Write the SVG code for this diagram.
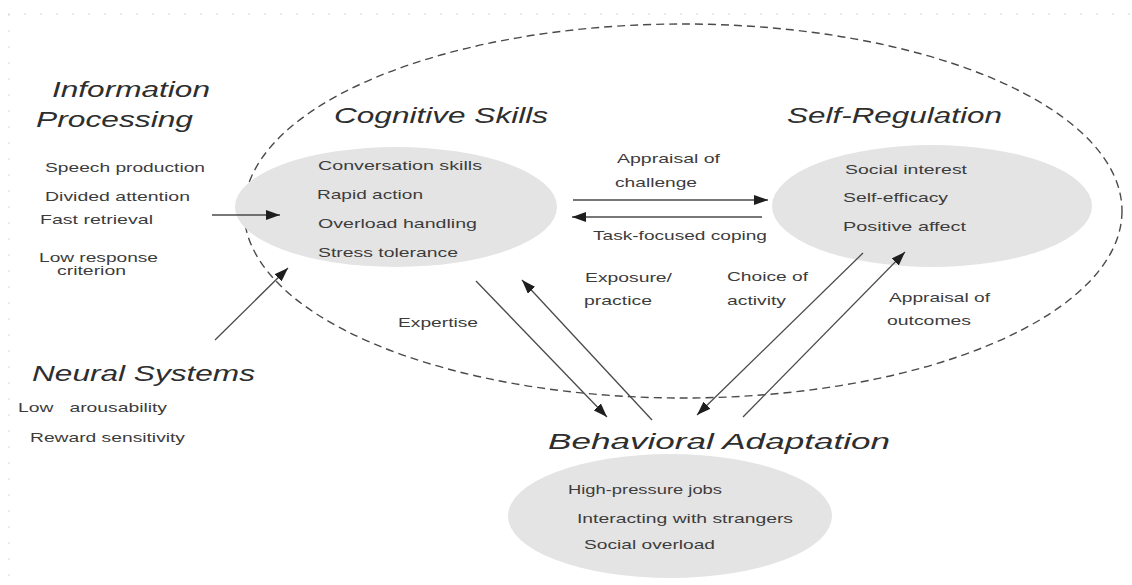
<svg xmlns="http://www.w3.org/2000/svg" width="1132" height="585" viewBox="0 0 1132 585">
<style>
.h{font-family:"Liberation Sans",Arial,sans-serif;font-style:italic;font-size:22px;fill:#2e2e2e}
.t{font-family:"Liberation Sans",Arial,sans-serif;font-size:13.5px;fill:#3c3c3c}
.blob{fill:#e4e4e4}
.c{stroke:#4a4a4a;stroke-width:1.3;fill:none}
</style>
<defs>
<marker id="ah" viewBox="0 0 14 10" refX="14" refY="5" markerWidth="14" markerHeight="10" markerUnits="userSpaceOnUse" orient="auto">
<path d="M0,0 L14,5 L0,10 Z" fill="#1e1e1e"/>
</marker>
</defs>
<rect width="1132" height="585" fill="#ffffff"/>
<g id="frame">
<line x1="8" y1="14" x2="1132" y2="14" stroke="#d6d6d6" stroke-width="1" stroke-dasharray="2,14"/>
<line x1="9" y1="14" x2="9" y2="585" stroke="#d6d6d6" stroke-width="1" stroke-dasharray="2,14"/>
</g>
<g id="boundary">
<ellipse cx="683" cy="211" rx="439" ry="187" fill="none" stroke="#4a4a4a" stroke-width="1.4" stroke-dasharray="8,5"/>
</g>
<g id="information-processing">
<text class="h" x="52" y="97" textLength="158" lengthAdjust="spacingAndGlyphs">Information</text>
<text class="h" x="36" y="127" textLength="157" lengthAdjust="spacingAndGlyphs">Processing</text>
<text class="t" x="45" y="172" textLength="160" lengthAdjust="spacingAndGlyphs">Speech production</text>
<text class="t" x="45" y="201" textLength="145" lengthAdjust="spacingAndGlyphs">Divided attention</text>
<text class="t" x="40" y="224" textLength="113" lengthAdjust="spacingAndGlyphs">Fast retrieval</text>
<text class="t" x="39" y="262" textLength="119" lengthAdjust="spacingAndGlyphs">Low response</text>
<text class="t" x="57" y="275" textLength="69" lengthAdjust="spacingAndGlyphs">criterion</text>
</g>
<g id="neural-systems">
<text class="h" x="32" y="381" textLength="223" lengthAdjust="spacingAndGlyphs">Neural Systems</text>
<text class="t" x="18" y="412" textLength="149" lengthAdjust="spacingAndGlyphs" xml:space="preserve">Low   arousability</text>
<text class="t" x="30" y="442" textLength="155" lengthAdjust="spacingAndGlyphs">Reward sensitivity</text>
</g>
<g id="cognitive-skills">
<text class="h" x="334" y="123" textLength="214" lengthAdjust="spacingAndGlyphs">Cognitive Skills</text>
<ellipse class="blob" cx="396" cy="207" rx="161" ry="60"/>
<text class="t" x="318" y="170" textLength="164" lengthAdjust="spacingAndGlyphs">Conversation skills</text>
<text class="t" x="317" y="199" textLength="106" lengthAdjust="spacingAndGlyphs">Rapid action</text>
<text class="t" x="318" y="228" textLength="159" lengthAdjust="spacingAndGlyphs">Overload handling</text>
<text class="t" x="318" y="257" textLength="140" lengthAdjust="spacingAndGlyphs">Stress tolerance</text>
</g>
<g id="self-regulation">
<text class="h" x="787" y="123" textLength="215" lengthAdjust="spacingAndGlyphs">Self-Regulation</text>
<ellipse class="blob" cx="932" cy="206" rx="160" ry="61"/>
<text class="t" x="845" y="174" textLength="122" lengthAdjust="spacingAndGlyphs">Social interest</text>
<text class="t" x="843" y="202" textLength="105" lengthAdjust="spacingAndGlyphs">Self-efficacy</text>
<text class="t" x="843" y="231" textLength="123" lengthAdjust="spacingAndGlyphs">Positive affect</text>
</g>
<g id="behavioral-adaptation">
<text class="h" x="548" y="449" textLength="342" lengthAdjust="spacingAndGlyphs">Behavioral Adaptation</text>
<ellipse class="blob" cx="670" cy="516" rx="162" ry="62"/>
<text class="t" x="568" y="494" textLength="154" lengthAdjust="spacingAndGlyphs">High-pressure jobs</text>
<text class="t" x="577" y="523" textLength="216" lengthAdjust="spacingAndGlyphs">Interacting with strangers</text>
<text class="t" x="584" y="549" textLength="131" lengthAdjust="spacingAndGlyphs">Social overload</text>
</g>
<g id="connectors">
<line class="c" x1="212" y1="215" x2="280" y2="215" marker-end="url(#ah)"/>
<line class="c" x1="215" y1="340" x2="288" y2="268" marker-end="url(#ah)"/>
<line class="c" x1="573" y1="200" x2="768" y2="200" marker-end="url(#ah)"/>
<line class="c" x1="762" y1="217" x2="572" y2="217" marker-end="url(#ah)"/>
<line class="c" x1="476" y1="281" x2="607" y2="417" marker-end="url(#ah)"/>
<line class="c" x1="652" y1="420" x2="522" y2="280" marker-end="url(#ah)"/>
<line class="c" x1="863" y1="253" x2="697" y2="415" marker-end="url(#ah)"/>
<line class="c" x1="743" y1="417" x2="905" y2="252" marker-end="url(#ah)"/>
</g>
<g id="connector-labels">
<text class="t" x="617" y="163" textLength="103" lengthAdjust="spacingAndGlyphs">Appraisal of</text>
<text class="t" x="615" y="187" textLength="82" lengthAdjust="spacingAndGlyphs">challenge</text>
<text class="t" x="593" y="240" textLength="174" lengthAdjust="spacingAndGlyphs">Task-focused coping</text>
<text class="t" x="585" y="282" textLength="87" lengthAdjust="spacingAndGlyphs">Exposure/</text>
<text class="t" x="584" y="305" textLength="68" lengthAdjust="spacingAndGlyphs">practice</text>
<text class="t" x="727" y="281" textLength="81" lengthAdjust="spacingAndGlyphs">Choice of</text>
<text class="t" x="727" y="305" textLength="59" lengthAdjust="spacingAndGlyphs">activity</text>
<text class="t" x="889" y="302" textLength="101" lengthAdjust="spacingAndGlyphs">Appraisal of</text>
<text class="t" x="887" y="325" textLength="84" lengthAdjust="spacingAndGlyphs">outcomes</text>
<text class="t" x="398" y="327" textLength="80" lengthAdjust="spacingAndGlyphs">Expertise</text>
</g>
</svg>
